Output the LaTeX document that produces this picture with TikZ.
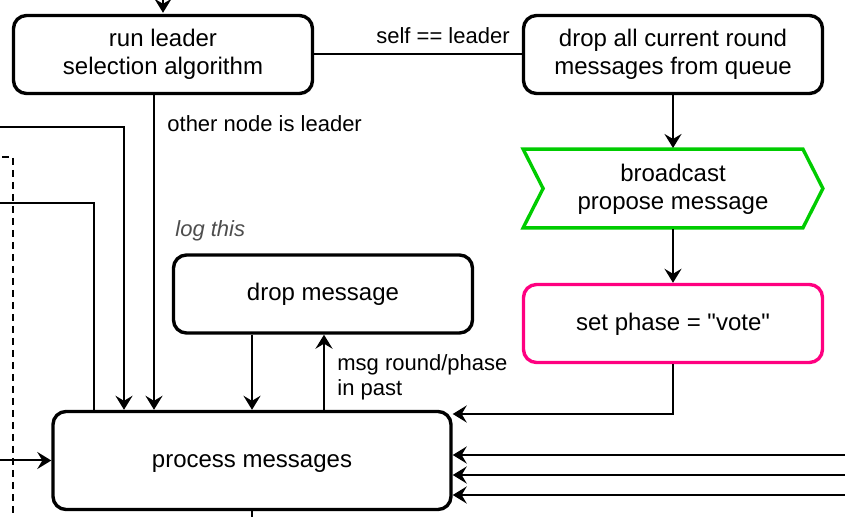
\documentclass[tikz,border=0pt]{standalone}
\usepackage{fontspec}
\setmainfont{Liberation Sans}[Ligatures=TeXOff]
\usetikzlibrary{arrows.meta,calc}
\definecolor{stepgreen}{HTML}{00CC00}
\definecolor{phasepink}{HTML}{FF0080}
\definecolor{notegray}{HTML}{4D4D4D}
\begin{document}
\begin{tikzpicture}[x=0.5pt,y=-0.5pt,
  box/.style={draw, line width=1.7pt, rounded corners=6.5pt, minimum width=149.5pt,
    minimum height=39pt, align=center, inner sep=0pt, font=\fontsize{12}{14}\selectfont},
  oneline/.style={text height=9.5pt, text depth=2.8pt},
  conn/.style={line width=1pt, -{Stealth[length=7pt,width=8.5pt,inset=2.5pt]}},
  plainline/.style={line width=1pt},
  lbl/.style={font=\fontsize{11}{12.5}\selectfont, inner sep=0pt, align=left}]
\useasboundingbox (0,0) rectangle (845,517);
\clip (0,0) rectangle (845,517);

% nodes
\node[box] (leader) at (163,54.5) {run leader\\selection algorithm};
\node[box] (dropall) at (673,54.5) {drop all current round\\messages from queue};
\node[minimum width=149.5pt, minimum height=39pt, inner sep=0pt, align=center,
  font=\fontsize{12}{14}\selectfont] (bcast) at (673,189.5) {broadcast\\propose message};
\draw[stepgreen, line width=1.7pt]
  ($(bcast.north west)+(0,-1)$) -- ($(bcast.north east)+(-20,-1)$) -- ($(bcast.east)+(0,-1)$)
  -- ($(bcast.south east)+(-20,-1)$) -- ($(bcast.south west)+(0,-1)$)
  -- ($(bcast.west)+(20,-1)$) -- cycle;
\node[box, oneline, draw=phasepink] (phase) at (673,323.5) {set phase = "vote"};
\node[box, oneline] (drop) at (323,294) {drop message};
\node[box, oneline, minimum width=199pt, minimum height=49pt] (proc) at (252,460.5) {process messages};

% labels
\node[lbl] (selflbl) at (443,36) {self == leader};
\node[lbl, anchor=west] (otherlbl) at (167,124) {other node is leader};
\node[lbl, anchor=west, text=notegray, font=\fontsize{11}{12.5}\selectfont\itshape] (loglbl) at (175,231) {log this};
\node[lbl, anchor=west] (pastlbl) at (337,377.5) {msg round/phase\\in past};

% free ends
\coordinate (topin) at (163,-30);
\coordinate (r1) at (860,455);
\coordinate (r2) at (860,475);
\coordinate (r3) at (860,495);
\coordinate (l1) at (-10,460.5);
\coordinate (l2) at (-10,127);
\coordinate (l3) at (-10,203);
\coordinate (bot) at (252,540);
\coordinate (d1) at (-10,157);

% connectors
\draw[conn] (topin) -- ([yshift=0.5pt]leader.north);
\draw[plainline] (leader.east |- 0,54) -- (dropall.west |- 0,54);
\draw[conn] (dropall.south) -- (673,0 |- 0,148);
\draw[conn] (673,0 |- 0,229) -- (phase.north);
\draw[conn] (phase.south) |- (proc.east |- 0,414);
\draw[conn] (r1) -- (proc.east |- r1);
\draw[conn] (r2) -- (proc.east |- r2);
\draw[conn] (r3) -- (proc.east |- r3);
\draw[conn] (l1) -- (proc.west);
\draw[conn] (l2) -| (124,0 |- proc.north);
\draw[plainline] (l3) -| (94,0 |- proc.north);
\draw[conn] (154,0 |- leader.south) -- (154,0 |- proc.north);
\draw[conn] (252,0 |- drop.south) -- (252,0 |- proc.north);
\draw[conn] (324,0 |- proc.north) -- (324,0 |- drop.south);
\draw[plainline] (proc.south) -- (bot);
\draw[line width=1pt, dash pattern=on 3.5pt off 2.5pt] (d1) -- (13,157) -- (13,540);
\end{tikzpicture}
\end{document}
